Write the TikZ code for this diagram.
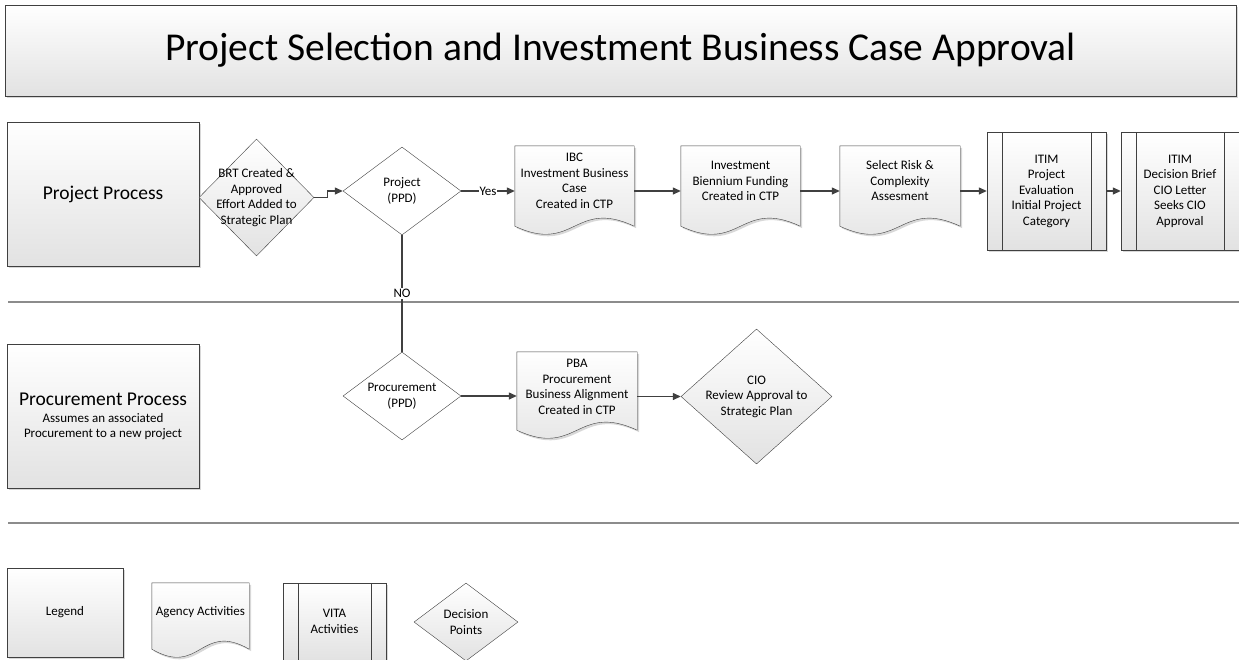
\documentclass[tikz,border=0pt]{standalone}
\usepackage{fontspec}
\setmainfont{Carlito}
\usetikzlibrary{arrows.meta,shapes,shadows,backgrounds,calc,positioning}
\definecolor{linegray}{HTML}{404040}
\definecolor{sepgray}{HTML}{8C8C8C}
\definecolor{shadegray}{HTML}{E2E2E2}
\newcommand\bodyfont{\fontsize{13}{15.5}\selectfont}
\newcommand\lanefont{\fontsize{19.5}{22}\selectfont}
\tikzset{
  lane/.style = {
    rectangle, draw=linegray, top color=white, bottom color=shadegray,
    drop shadow={shadow xshift=2pt, shadow yshift=-2pt, fill=black!30, opacity=.5},
    align=center
  },
  decision/.style = {
    diamond, draw=linegray, inner sep=0pt
  },
  txt/.style = {
    align=center, font=\bodyfont, text=black
  },
  agency/.style = {
    rectangle, inner sep=0pt, txt
  },
  agencydoc/.style = {
    draw=linegray, top color=white, bottom color=shadegray,
    drop shadow={shadow xshift=2pt, shadow yshift=-2pt, fill=black!30, opacity=.5}
  },
  vita/.style = {
    lane, inner sep=0pt, txt,
    path picture={
      \draw[linegray] ([xshift=15pt]path picture bounding box.north west) --
        ([xshift=15pt]path picture bounding box.south west);
      \draw[linegray] ([xshift=-15pt]path picture bounding box.north east) --
        ([xshift=-15pt]path picture bounding box.south east);
    }
  },
  arc/.style = {
    -{Triangle[length=8pt,width=7pt]},
    line width=1.3pt, draw=linegray
  },
  edge/.style = {
    line width=1.3pt, draw=linegray
  }
}

\begin{document}
\begin{tikzpicture}[x=1pt,y=-1pt]
  \useasboundingbox (0,0) rectangle (1239,659);

  \node[lane, minimum width=1231pt, minimum height=91pt, font=\fontsize{39.5}{44}\selectfont]
    (title) at (620.5,50.5) {Project Selection and Investment Business Case Approval};

  \draw[sepgray, line width=1.2pt] (8,302) -- (1239,302);
  \draw[sepgray, line width=1.2pt] (8,523) -- (1239,523);

  % lanes
  \node[lane, minimum width=192pt, minimum height=144pt, font=\lanefont]
    (projlane) at (103,194) {Project Process};
  \node[lane, minimum width=192pt, minimum height=144pt, font=\fontsize{13}{14.5}\selectfont]
    (proclane) at (103,416) {{\lanefont Procurement Process}\\[3pt]Assumes an associated\\Procurement to a new project};

  % project row
  \node[decision, top color=white, bottom color=shadegray, minimum width=115pt, minimum height=117pt,
    label={[txt]center:BRT Created \&\\Approved\\Effort Added to\\Strategic Plan}] (brt) at (256.5,197.5) {};
  \node[decision, fill=white, minimum width=118pt, minimum height=88pt,
    label={[txt]center:Project\\(PPD)}] (proj) at (402,191) {};
  \node[agency, minimum width=119pt, minimum height=70pt] (ibc) at (574.5,181)
    {IBC\\Investment Business\\Case\\Created in CTP};
  \node[agency, minimum width=119pt, minimum height=70pt] (biennium) at (740.5,181)
    {Investment\\Biennium Funding\\Created in CTP};
  \node[agency, minimum width=120pt, minimum height=70pt] (risk) at (900,181)
    {Select Risk \&\\Complexity\\Assesment};
  \node[vita, minimum width=119pt, minimum height=118pt] (itim1) at (1046.5,191)
    {ITIM\\Project\\Evaluation\\Initial Project\\Category};
  \node[vita, minimum width=118pt, minimum height=118pt] (itim2) at (1180,191)
    {ITIM\\Decision Brief\\CIO Letter\\Seeks CIO\\Approval};

  % procurement row
  \node[decision, fill=white, minimum width=118pt, minimum height=88pt,
    label={[txt]center:Procurement\\(PPD)}] (pdec) at (402,396) {};
  \node[agency, minimum width=120pt, minimum height=70pt] (pba) at (577,387)
    {PBA\\Procurement\\Business Alignment\\Created in CTP};
  \node[decision, top color=white, bottom color=shadegray, minimum width=151pt, minimum height=135pt,
    label={[txt]center:CIO\\Review Approval to\\Strategic Plan}] (cio) at (756.5,396.5) {};

  % legend
  \node[lane, minimum width=116pt, minimum height=89pt, font=\bodyfont] (legend) at (65,612.5) {Legend};
  \node[agency, minimum width=97pt, minimum height=58pt] (legagency) at (200.5,612) {Agency Activities};
  \node[vita, minimum width=103pt, minimum height=77pt] (legvita) at (334.5,621.5) {VITA\\Activities};
  \node[decision, top color=white, bottom color=shadegray, minimum width=104pt, minimum height=78pt,
    label={[txt]center:Decision\\Points}] (legdec) at (466,622) {};

  \begin{scope}[on background layer]
    \foreach \nm/\off in {ibc/10,biennium/10,risk/10,pba/8,legagency/8}
      \path[agencydoc] (\nm.north west) -- (\nm.north east) -- ($(\nm.south east)+(0,\off)$)
        .. controls ($(\nm.south)+(0,\off-28)$) and ($(\nm.south)+(0,\off+28)$) ..
        ($(\nm.south west)+(0,\off)$) -- cycle;
  \end{scope}

  \draw[arc] (brt.east) -- ++(13,0) |- (proj.west);
  \draw[arc] (proj.east) -- (proj.east -| ibc.west) node[midway, fill=white, inner sep=1pt, txt] {Yes};
  \draw[arc] (ibc.east |- proj) -- (biennium.west |- proj);
  \draw[arc] (biennium.east |- proj) -- (risk.west |- proj);
  \draw[arc] (risk.east |- proj) -- (itim1.west);
  \draw[arc] (itim1.east) -- (itim2.west);
  \draw[edge] (proj.south) -- (pdec.north) node[midway, fill=white, inner sep=1pt, txt] {NO};
  \draw[arc] (pdec.east) -- (pdec.east -| pba.west);
  \draw[arc] (pba.east |- cio) -- (cio.west);
\end{tikzpicture}
\end{document}
